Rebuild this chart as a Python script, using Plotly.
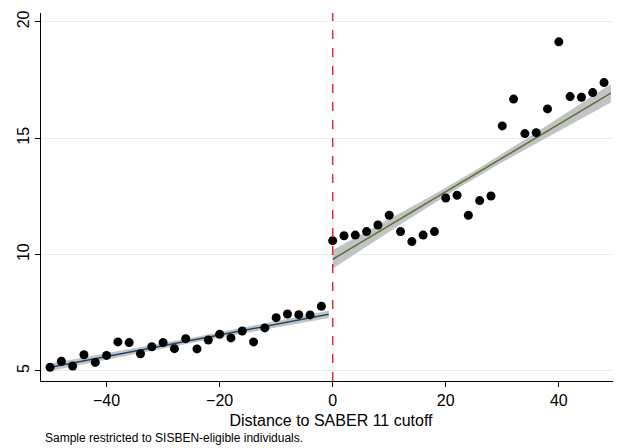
import numpy as np
import plotly.graph_objects as go

# ---- data ----
x_left = list(range(-50, 0, 2))
y_left = [5.16, 5.42, 5.21, 5.70, 5.37, 5.67, 6.25, 6.22, 5.74, 6.04,
          6.22, 5.96, 6.39, 5.95, 6.33, 6.58, 6.42, 6.72, 6.25, 6.85,
          7.29, 7.45, 7.42, 7.41, 7.78]

x_right = list(range(0, 50, 2))
y_right = [10.60, 10.81, 10.84, 10.99, 11.27, 11.69, 10.99, 10.56, 10.84, 10.99,
           12.43, 12.55, 11.69, 12.32, 12.52, 15.53, 16.68, 15.20, 15.24, 16.26,
           19.14, 16.79, 16.76, 16.96, 17.39]

# linear fits (intercept at cutoff, slope), fit extents, CI half-widths (center, edge)
left_intercept, left_slope = 7.47, 0.0462
left_extent = [-49.5, -0.7]
left_ci = [0.11, 0.16]

right_intercept, right_slope = 9.80, 0.145
right_extent = [0.0, 49.2]
right_ci = [0.16, 0.40]

x_ticks = [-40, -20, 0, 20, 40]
y_ticks = [5, 10, 15, 20]
x_title = "Distance to SABER 11 cutoff"
note = "Sample restricted to SISBEN-eligible individuals."

FONT = "Liberation Sans, Arial, Helvetica, sans-serif"


def fit_band(intercept, slope, extent, ci):
    xs = np.linspace(extent[0], extent[1], 80)
    yhat = intercept + slope * xs
    c = (extent[0] + extent[1]) / 2
    h = (extent[1] - extent[0]) / 2
    hw = np.sqrt(ci[0] ** 2 + (ci[1] ** 2 - ci[0] ** 2) * ((xs - c) / h) ** 2)
    return xs, yhat, yhat + hw, yhat - hw


fig = go.Figure()

for (icpt, slp, ext, ci, col) in [
    (left_intercept, left_slope, left_extent, left_ci, "#1a476f"),
    (right_intercept, right_slope, right_extent, right_ci, "#55752f"),
]:
    xs, yhat, up, lo = fit_band(icpt, slp, ext, ci)
    fig.add_trace(go.Scatter(
        x=np.concatenate([xs, xs[::-1]]),
        y=np.concatenate([up, lo[::-1]]),
        fill="toself", fillcolor="rgba(185,185,185,0.85)",
        line=dict(width=0), mode="lines", hoverinfo="skip", showlegend=False))
    fig.add_trace(go.Scatter(
        x=xs, y=yhat, mode="lines", line=dict(color=col, width=1.5),
        showlegend=False))

fig.add_trace(go.Scatter(
    x=x_left + x_right, y=y_left + y_right, mode="markers",
    marker=dict(color="black", size=9), showlegend=False, cliponaxis=False))

fig.add_shape(type="line", xref="x", yref="paper", x0=0, x1=0, y0=0, y1=1,
              line=dict(color="#e8283a", width=1.5, dash="dash"))

# page body has an 8px default margin, so the figure is sized/offset to compensate
fig.update_layout(
    width=613, height=440,
    margin=dict(l=33, r=0, t=5, b=67),
    plot_bgcolor="white", paper_bgcolor="white",
    font=dict(family=FONT, color="black", size=16),
    xaxis=dict(range=[-51.6, 51.0], tickvals=x_ticks, ticks="outside", ticklen=5,
               tickcolor="black", showline=True, linecolor="black", linewidth=1,
               showgrid=False, zeroline=False, tickfont=dict(size=16),
               automargin=False,
               title=dict(text=x_title, font=dict(size=16), standoff=6)),
    yaxis=dict(range=[4.57, 20.38], tickvals=y_ticks, tickangle=-90, ticks="outside",
               ticklen=5, tickcolor="black", showline=True, linecolor="black",
               linewidth=1, showgrid=True, gridcolor="#e6eef0", zeroline=False,
               automargin=False, tickfont=dict(size=16)),
    annotations=[dict(text=note, xref="paper", yref="paper", x=0.003, y=-0.155,
                      xanchor="left", yanchor="middle", showarrow=False,
                      font=dict(size=12, family=FONT))],
)

fig.write_html("out.html")
